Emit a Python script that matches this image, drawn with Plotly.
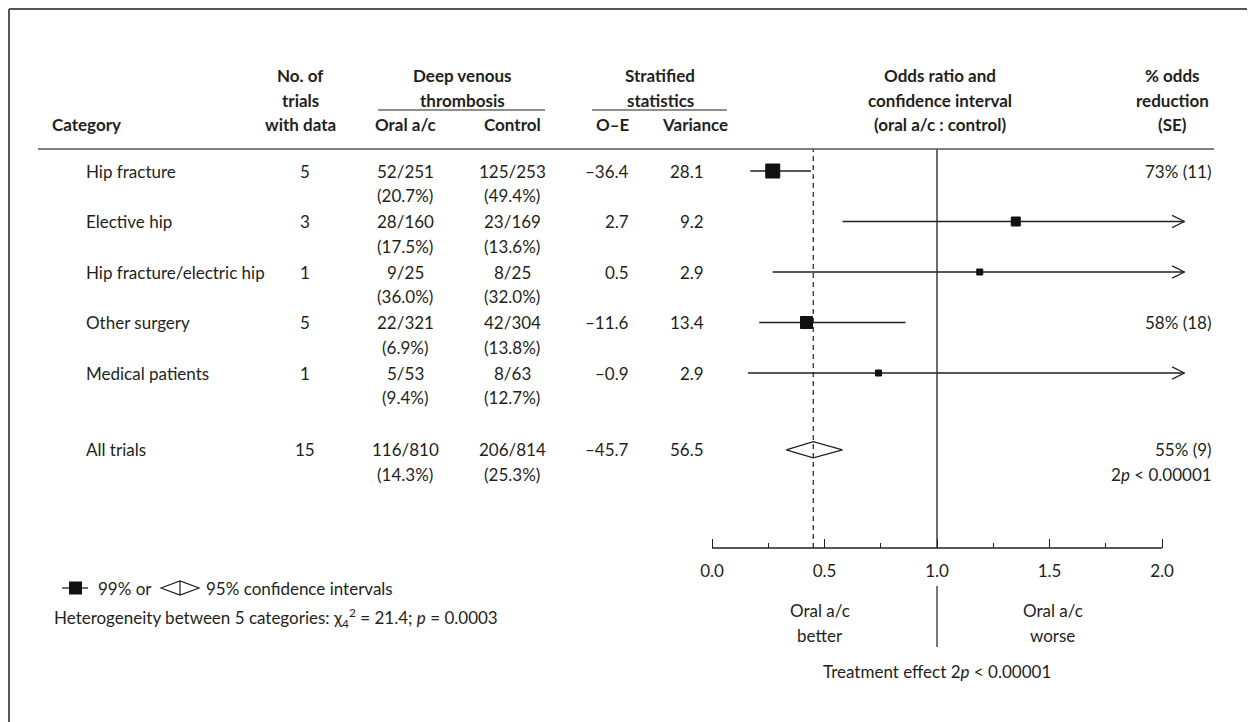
import plotly.graph_objects as go

# ---------------- data ----------------
categories = ["Hip fracture", "Elective hip", "Hip fracture/electric hip",
              "Other surgery", "Medical patients"]
n_trials = [5, 3, 1, 5, 1]
oral_events = ["52/251", "28/160", "9/25", "22/321", "5/53"]
oral_pct = ["(20.7%)", "(17.5%)", "(36.0%)", "(6.9%)", "(9.4%)"]
ctrl_events = ["125/253", "23/169", "8/25", "42/304", "8/63"]
ctrl_pct = ["(49.4%)", "(13.6%)", "(32.0%)", "(13.8%)", "(12.7%)"]
o_minus_e = ["\u201336.4", "2.7", "0.5", "\u201311.6", "\u20130.9"]
variance = ["28.1", "9.2", "2.9", "13.4", "2.9"]
odds_ratio = [0.27, 1.35, 1.19, 0.42, 0.74]
ci_low = [0.17, 0.58, 0.27, 0.21, 0.16]
ci_high = [0.44, 3.10, 5.20, 0.86, 3.40]
marker_size = [14, 9, 6, 12, 6]
reduction = ["73% (11)", "", "", "58% (18)", ""]

total_label = "All trials"
total_trials = 15
total_oral = ["116/810", "(14.3%)"]
total_ctrl = ["206/814", "(25.3%)"]
total_oe = "\u201345.7"
total_var = "56.5"
total_or = 0.45
total_low = 0.33
total_high = 0.58
total_reduction = ["55% (9)", "2<i>p</i> &lt; 0.00001"]

tick_vals = [0.0, 0.5, 1.0, 1.5, 2.0]
tick_text = ["0.0", "0.5", "1.0", "1.5", "2.0"]
minor_vals = [0.25, 0.75, 1.25, 1.75]
arrow_end = 2.1

# ---------------- geometry helpers ----------------
W, H = 1255, 722
OFF = 8  # page body margin
FONT = "Lato, 'Open Sans', sans-serif"
INK = "#231f20"
FS = 17

def px(x):
    return (x - OFF) / W

def py(y):
    return 1 - (y - OFF) / H

row_y = [0, 1, 2, 3, 4]
total_y = 5.52
ROW_PX = 50.5
ROW0_PX = 171
AX_TOP, AX_BOT = 149, 548
y_top = (AX_TOP - ROW0_PX) / ROW_PX
y_bot = (AX_BOT - ROW0_PX) / ROW_PX
X0_PX, UNIT_PX = 712, 225
DOM_L, DOM_R = 700, 1200
x_lo = (DOM_L - X0_PX) / UNIT_PX
x_hi = (DOM_R - X0_PX) / UNIT_PX

fig = go.Figure()

# CI lines (with arrows when beyond axis)
for i in range(len(categories)):
    hi = min(ci_high[i], arrow_end)
    fig.add_trace(go.Scatter(x=[ci_low[i], hi], y=[row_y[i], row_y[i]], mode="lines",
                             line=dict(color=INK, width=1.3), hoverinfo="skip", showlegend=False))
    if ci_high[i] > arrow_end:
        fig.add_trace(go.Scatter(x=[arrow_end - 0.055, arrow_end, arrow_end - 0.055],
                                 y=[row_y[i] - 0.12, row_y[i], row_y[i] + 0.12], mode="lines",
                                 line=dict(color=INK, width=1.3), hoverinfo="skip", showlegend=False))

# squares
fig.add_trace(go.Scatter(x=odds_ratio, y=row_y, mode="markers",
                         marker=dict(symbol="square", size=marker_size, color="#111111",
                                     opacity=1, line=dict(width=1, color="#111111")),
                         showlegend=False, hoverinfo="skip"))

# diamond
dh = 0.16
fig.add_trace(go.Scatter(x=[total_low, total_or, total_high, total_or, total_low],
                         y=[total_y, total_y - dh, total_y, total_y + dh, total_y],
                         mode="lines", line=dict(color=INK, width=1.3), fill="toself",
                         fillcolor="white", showlegend=False, hoverinfo="skip"))

shapes = []
# vertical reference lines
shapes.append(dict(type="line", xref="x", yref="paper", x0=1.0, x1=1.0,
                   y0=py(AX_BOT), y1=py(AX_TOP), line=dict(color=INK, width=1.3), layer="below"))
shapes.append(dict(type="line", xref="x", yref="paper", x0=total_or, x1=total_or,
                   y0=py(AX_BOT), y1=py(AX_TOP), line=dict(color=INK, width=1.2, dash="5px,4px"),
                   layer="above"))
# axis line 0..2
shapes.append(dict(type="line", xref="x", yref="paper", x0=tick_vals[0], x1=tick_vals[-1],
                   y0=py(AX_BOT), y1=py(AX_BOT), line=dict(color=INK, width=1.3)))
# separator below axis at 1.0
shapes.append(dict(type="line", xref="x", yref="paper", x0=1.0, x1=1.0,
                   y0=py(586), y1=py(647), line=dict(color=INK, width=1.2)))
# header rule
shapes.append(dict(type="line", xref="paper", yref="paper", x0=px(38), x1=px(1214),
                   y0=py(AX_TOP), y1=py(AX_TOP), line=dict(color="#555555", width=1.5)))
# group underlines
shapes.append(dict(type="line", xref="paper", yref="paper", x0=px(378), x1=px(545),
                   y0=py(110), y1=py(110), line=dict(color=INK, width=1.2)))
shapes.append(dict(type="line", xref="paper", yref="paper", x0=px(592), x1=px(727),
                   y0=py(110), y1=py(110), line=dict(color=INK, width=1.2)))
# frame (top and left visible)
shapes.append(dict(type="line", xref="paper", yref="paper", x0=0.0008, x1=1,
                   y0=0.9986, y1=0.9986, line=dict(color="#555555", width=2)))
shapes.append(dict(type="line", xref="paper", yref="paper", x0=0.0008, x1=0.0008,
                   y0=0.9986, y1=0, line=dict(color="#555555", width=2)))
# legend glyphs
LY = 588
shapes.append(dict(type="line", xref="paper", yref="paper", x0=px(62), x1=px(88),
                   y0=py(LY), y1=py(LY), line=dict(color=INK, width=1.3)))
shapes.append(dict(type="rect", xref="paper", yref="paper", x0=px(69), x1=px(82),
                   y0=py(LY + 6.5), y1=py(LY - 6.5), line=dict(width=0), fillcolor="#111111"))
DL, DR = 161, 199
DC = (DL + DR) / 2
shapes.append(dict(type="path", xref="paper", yref="paper",
                   path=f"M {px(DL)} {py(LY)} L {px(DC)} {py(LY-7)} L {px(DR)} {py(LY)} L {px(DC)} {py(LY+7)} Z",
                   line=dict(color=INK, width=1.2), fillcolor="white"))
shapes.append(dict(type="line", xref="paper", yref="paper", x0=px(DC), x1=px(DC),
                   y0=py(LY - 7), y1=py(LY + 7), line=dict(color=INK, width=1.2)))

ann = []

def txt(x, y, s, anchor="center", bold=False, size=FS, xref="paper", yref="paper", yshift=0):
    ann.append(dict(x=x, y=y, xref=xref, yref=yref, text=(f"<b>{s}</b>" if bold else s),
                    showarrow=False, xanchor=anchor, yanchor="middle", yshift=yshift,
                    font=dict(family=FONT, size=size, color=INK)))

# headers
HL = [76, 100, 124]
txt(px(50), py(HL[2]), "Category", "left", True)
for k, s in enumerate(["No. of", "trials", "with data"]):
    txt(px(300), py(HL[k]), s, "center", True)
for k, s in enumerate(["Deep venous", "thrombosis"]):
    txt(px(462), py(HL[k]), s, "center", True)
txt(px(405), py(HL[2]), "Oral a/c", "center", True)
txt(px(512), py(HL[2]), "Control", "center", True)
for k, s in enumerate(["Stratified", "statistics"]):
    txt(px(660), py(HL[k]), s, "center", True)
txt(px(613), py(HL[2]), "O\u2013E", "center", True)
txt(px(695), py(HL[2]), "Variance", "center", True)
for k, s in enumerate(["Odds ratio and", "confidence interval", "(oral a/c : control)"]):
    txt(px(940), py(HL[k]), s, "center", True)
for k, s in enumerate(["% odds", "reduction", "(SE)"]):
    txt(px(1172), py(HL[k]), s, "center", True)

L2 = -24.5
for i in range(len(categories)):
    r = row_y[i]
    txt(px(84), r, categories[i], "left", yref="y")
    txt(px(305), r, str(n_trials[i]), "center", yref="y")
    txt(px(405), r, oral_events[i], "center", yref="y")
    txt(px(405), r, oral_pct[i], "center", yref="y", yshift=L2)
    txt(px(512), r, ctrl_events[i], "center", yref="y")
    txt(px(512), r, ctrl_pct[i], "center", yref="y", yshift=L2)
    txt(px(631), r, o_minus_e[i], "right", yref="y")
    txt(px(706), r, variance[i], "right", yref="y")
    if reduction[i]:
        txt(px(1214), r, reduction[i], "right", yref="y")

r = total_y
txt(px(84), r, total_label, "left", yref="y")
txt(px(305), r, str(total_trials), "center", yref="y")
txt(px(405), r, total_oral[0], "center", yref="y")
txt(px(405), r, total_oral[1], "center", yref="y", yshift=L2)
txt(px(512), r, total_ctrl[0], "center", yref="y")
txt(px(512), r, total_ctrl[1], "center", yref="y", yshift=L2)
txt(px(631), r, total_oe, "right", yref="y")
txt(px(706), r, total_var, "right", yref="y")
txt(px(1214), r, total_reduction[0], "right", yref="y")
txt(px(1214), r, total_reduction[1], "right", yref="y", yshift=L2)

# legend / footnotes
txt(px(96), py(LY), "99% or", "left")
txt(px(204), py(LY), "95% confidence intervals", "left")
txt(px(52), py(618), "Heterogeneity between 5 categories: \u03c7<sub>4</sub><sup>2</sup> = 21.4; <i>p</i> = 0.0003", "left")

# below-axis labels
txt(0.48, py(610), "Oral a/c", "center", xref="x")
txt(0.48, py(635), "better", "center", xref="x")
txt(1.515, py(610), "Oral a/c", "center", xref="x")
txt(1.515, py(635), "worse", "center", xref="x")
txt(1.0, py(671), "Treatment effect 2<i>p</i> &lt; 0.00001", "center", xref="x")

fig.update_layout(
    width=W, height=H, margin=dict(l=0, r=0, t=0, b=0),
    paper_bgcolor="white", plot_bgcolor="white",
    shapes=shapes, annotations=ann, showlegend=False,
    xaxis=dict(domain=[px(DOM_L), px(DOM_R)], range=[x_lo, x_hi], showgrid=False, zeroline=False,
               showline=False, tickmode="array", tickvals=tick_vals, ticktext=tick_text,
               ticks="inside", ticklen=9, tickwidth=1.3, tickcolor=INK, ticklabelstandoff=11,
               tickfont=dict(family=FONT, size=FS, color=INK),
               minor=dict(tickmode="array", tickvals=minor_vals, ticks="inside", ticklen=5,
                          tickwidth=1.2, tickcolor=INK, showgrid=False)),
    yaxis=dict(domain=[py(AX_BOT), py(AX_TOP)], range=[y_bot, y_top], visible=False,
               showgrid=False, zeroline=False),
)

fig.write_html("out.html")
